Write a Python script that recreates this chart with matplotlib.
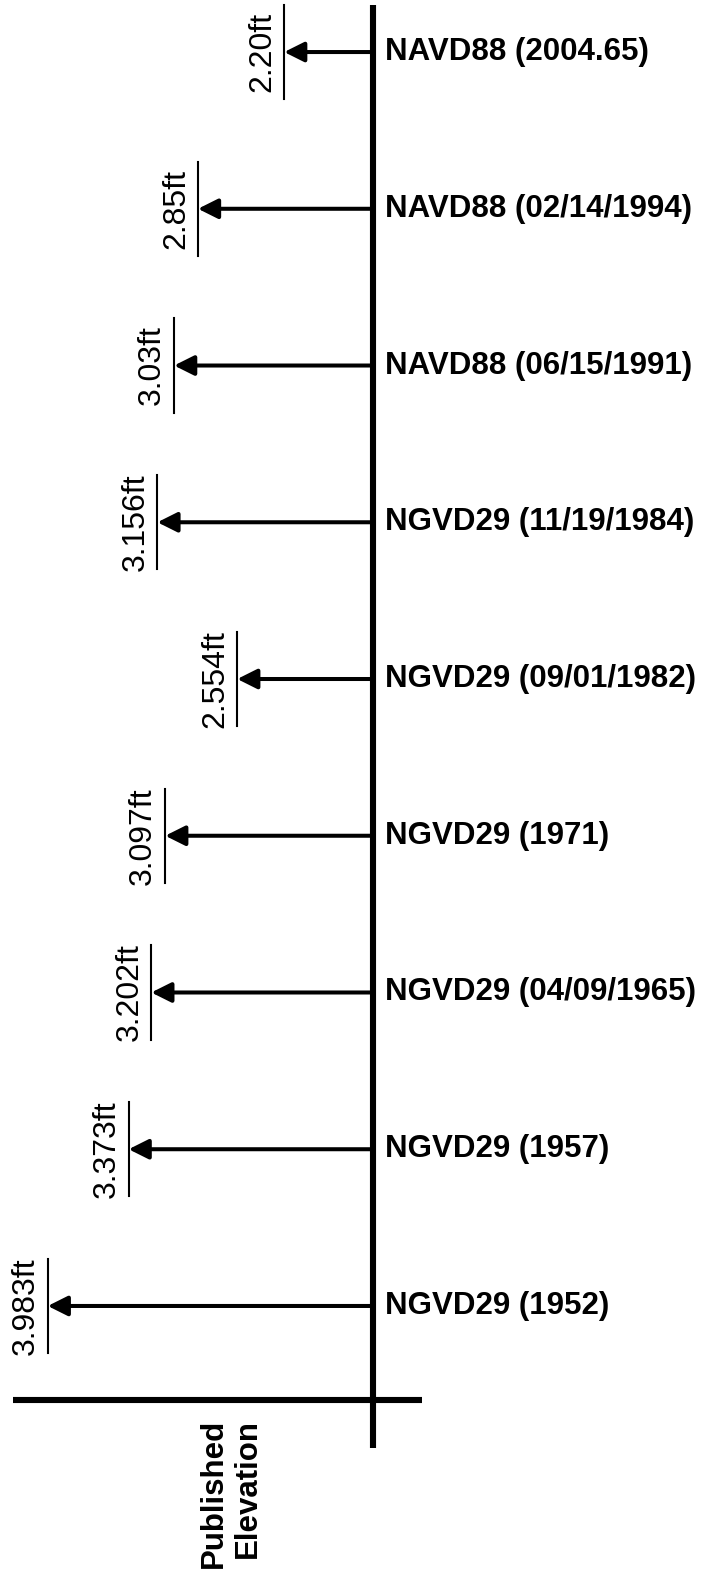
import matplotlib
matplotlib.use("Agg")
import matplotlib.pyplot as plt

# published elevations, newest at the top
datums = [
    "NAVD88 (2004.65)",
    "NAVD88 (02/14/1994)",
    "NAVD88 (06/15/1991)",
    "NGVD29 (11/19/1984)",
    "NGVD29 (09/01/1982)",
    "NGVD29 (1971)",
    "NGVD29 (04/09/1965)",
    "NGVD29 (1957)",
    "NGVD29 (1952)",
]
elevations = [2.20, 2.85, 3.03, 3.156, 2.554, 3.097, 3.202, 3.373, 3.983]
value_labels = ["2.20ft", "2.85ft", "3.03ft", "3.156ft", "2.554ft",
                "3.097ft", "3.202ft", "3.373ft", "3.983ft"]

plt.rcParams["font.family"] = ["Liberation Sans", "DejaVu Sans"]

fig = plt.figure(figsize=(7.02, 15.74), dpi=100)
ax = fig.add_axes([0, 0, 1, 1])
ax.set_xlim(4.343, -0.951)
ax.set_ylim(9.710, -0.332)
ax.axis("off")

baseline = 1.53  # where the main vertical line sits on the elevation scale

# main vertical line and the bottom cross bar
ax.plot([baseline, baseline], [-0.30, 8.906], color="black", lw=4.4,
        solid_capstyle="butt")
ax.plot([4.245, 1.161], [8.60, 8.60], color="black", lw=4.4,
        solid_capstyle="butt")

for i, (name, val, lab) in enumerate(zip(datums, elevations, value_labels)):
    ax.annotate("", xy=(val, i), xytext=(baseline, i),
                arrowprops=dict(arrowstyle="-|>,head_length=0.4,head_width=0.2",
                                color="black", lw=2.9, mutation_scale=30,
                                shrinkA=0, shrinkB=0))
    ax.plot([val, val], [i - 0.30, i + 0.30], color="black", lw=1.5)
    ax.annotate(lab, xy=(val, i), xytext=(-7, 0), textcoords="offset pixels",
                rotation=90, ha="right", va="center", fontsize=23)
    ax.annotate(name, xy=(baseline, i), xytext=(12, 0),
                textcoords="offset pixels", ha="left", va="center",
                fontsize=22.5, fontweight="bold")

ax.text(0.329, 0.051, "Published\nElevation", transform=ax.transAxes,
        rotation=90, ha="center", va="center", multialignment="right",
        fontsize=22.5, fontweight="bold")

fig.savefig("out.png", dpi=100)
